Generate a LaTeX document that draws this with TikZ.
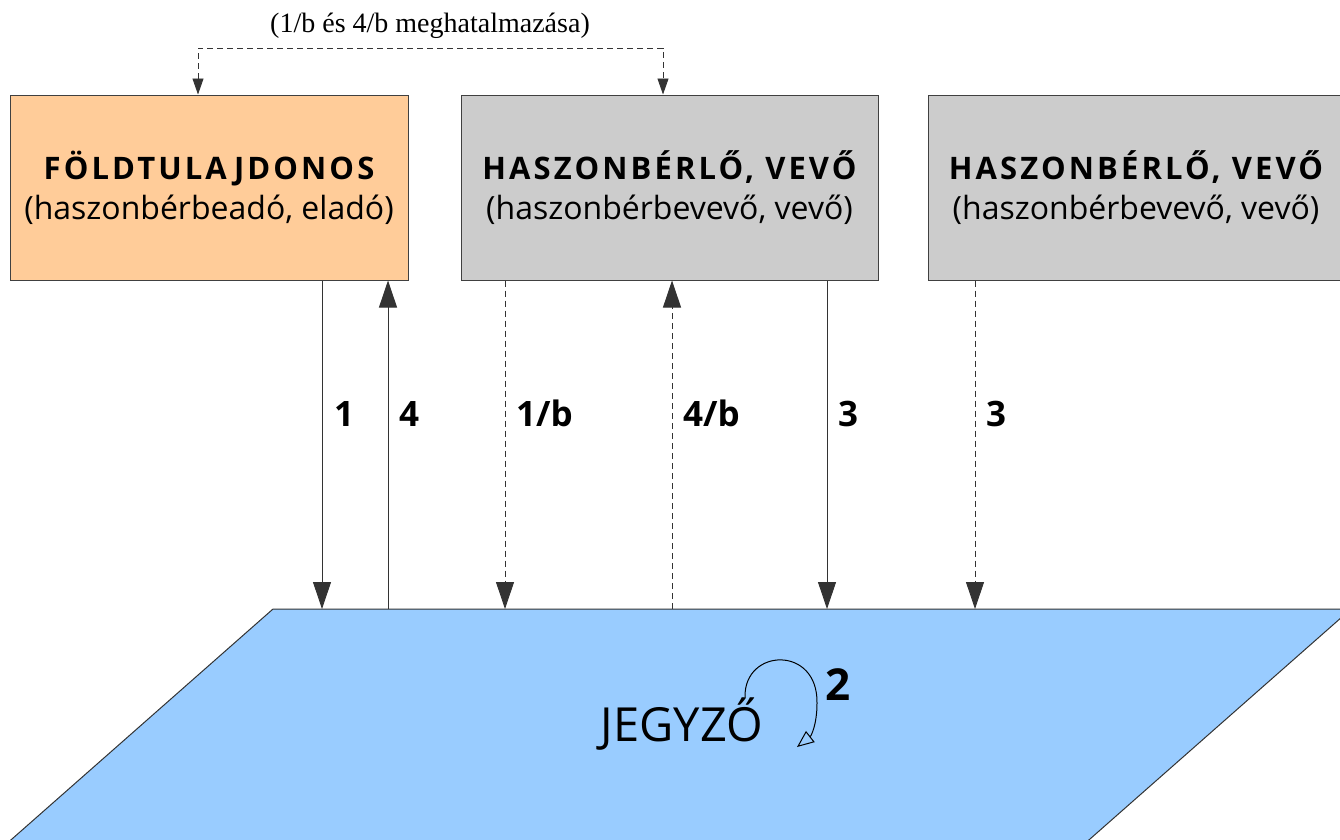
\documentclass[tikz,border=0pt]{standalone}
\usepackage{fontspec}
\setmainfont{Liberation Serif}
\setsansfont{Open Sans}
\newfontfamily\titlefont[LetterSpace=10]{Open Sans}
\usetikzlibrary{arrows.meta}
\definecolor{orangebox}{HTML}{FFCC99}
\definecolor{graybox}{HTML}{CCCCCC}
\definecolor{bluebox}{HTML}{99CCFF}
\newcommand{\partytext}[2]{{\titlefont\bfseries\fontsize{31}{40}\selectfont #1}\\{\fontsize{32}{40}\selectfont #2}}
\tikzset{
  party/.style={draw=black!75, line width=1pt, rectangle, minimum width=#1, minimum height=185pt, inner sep=0pt, align=center, font=\sffamily\fontsize{32}{40}\selectfont},
  solidarr/.style={draw=black!80, line width=0.9pt, -{Triangle[length=27pt,width=18pt]}},
  dasharr/.style={solidarr, dash pattern=on 6pt off 4pt},
  numlbl/.style={anchor=base west, inner sep=0pt, font=\sffamily\bfseries\fontsize{35}{35}\selectfont},
}
\begin{document}
\begin{tikzpicture}[x=1pt,y=-1pt]
\useasboundingbox (0,0) rectangle (1340,839);
\clip (0,0) rectangle (1340,839);
% notary parallelogram
\filldraw[fill=bluebox, draw=black!80, line width=1pt] (273,609) -- (1351,609) -- (1054.8,870) -- (-23.2,870) -- cycle;
\node[inner sep=0pt, font=\sffamily\fontsize{47}{47}\selectfont] (jegyzo) at (682,724) {JEGYZŐ};
% boxes
\node[party=398pt, fill=orangebox] (b1) at (209,187.5) {\partytext{FÖLDTULAJDONOS}{(haszonbérbeadó, eladó)}};
\node[party=417pt, fill=graybox] (b2) at (669.5,187.5) {\partytext{HASZONBÉRLŐ, VEVŐ}{(haszonbérbevevő, vevő)}};
\node[party=416pt, fill=graybox] (b3) at (1136,187.5) {\partytext{HASZONBÉRLŐ, VEVŐ}{(haszonbérbevevő, vevő)}};
% end coordinates on the notary's edge
\coordinate (e1) at (322,609);
\coordinate (e4) at (388,609);
\coordinate (e1b) at (505,609);
\coordinate (e4b) at (672,609);
\coordinate (e3) at (827,609);
\coordinate (e3b) at (975,609);
\draw[solidarr] (b1.south -| e1) -- (e1);
\draw[solidarr] (e4) -- (b1.south -| e4);
\draw[dasharr] (b2.south -| e1b) -- (e1b);
\draw[dasharr] (e4b) -- (b2.south -| e4b);
\draw[solidarr] (b2.south -| e3) -- (e3);
\draw[dasharr] (b3.south -| e3b) -- (e3b);
\node[numlbl] (l1) at (334,426) {1};
\node[numlbl] (l4) at (399,426) {4};
\node[numlbl] (l1b) at (516,426) {1/b};
\node[numlbl] (l4b) at (683,426) {4/b};
\node[numlbl] (l3) at (838,426) {3};
\node[numlbl] (l3b) at (986,426) {3};
% top power-of-attorney connector
\coordinate (ta) at (198,48);
\coordinate (tb) at (663,48);
\draw[draw=black!80, line width=0.9pt, dash pattern=on 6pt off 4pt, {Triangle[length=16pt,width=11pt]}-{Triangle[length=16pt,width=11pt]}] (b1.north -| ta) -- (ta) -- (tb) -- (b2.north -| tb);
\node[inner sep=0pt, font=\fontsize{28}{28}\selectfont] (meg) at (430,26) {(1/b és 4/b meghatalmazása)};
% self loop 2
\coordinate (s0) at (745,697);
\coordinate (s1) at (797,747);
\draw[line width=1pt, -{Triangle[open,length=17pt,width=14pt]}] (s0) .. controls (744,648) and (818,645) .. (817,703) .. controls (817,725) and (811,736) .. (s1);
\node[inner sep=0pt, font=\sffamily\bfseries\fontsize{44}{44}\selectfont] (two) at (838,685) {2};
\end{tikzpicture}
\end{document}
